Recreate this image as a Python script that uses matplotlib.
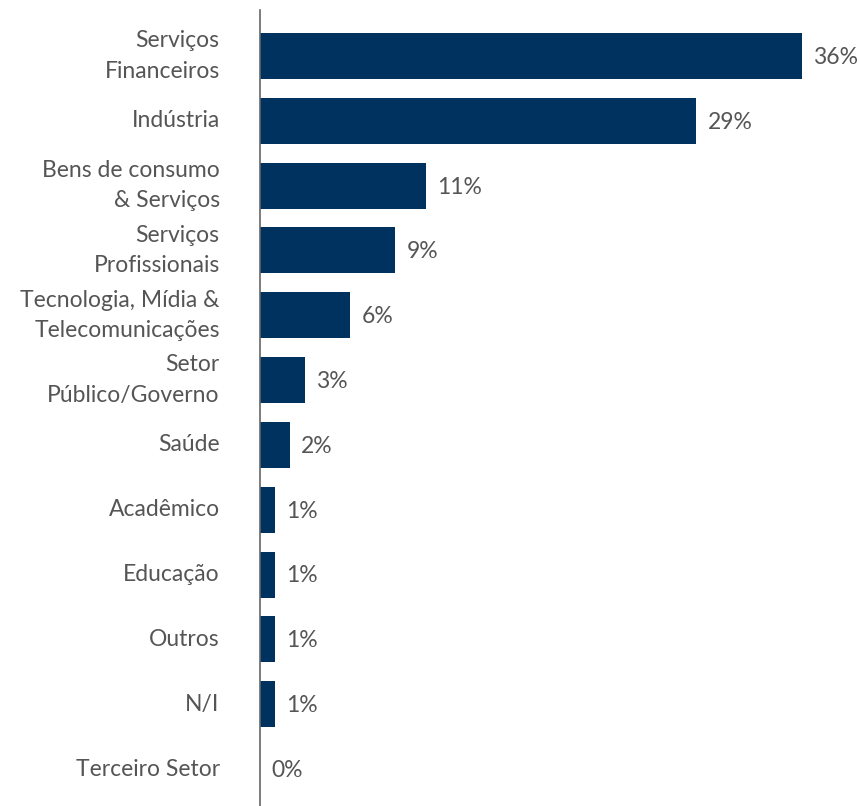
import matplotlib.pyplot as plt

setores = ['Serviços\nFinanceiros', 'Indústria', 'Bens de consumo\n& Serviços',
           'Serviços\nProfissionais', 'Tecnologia, Mídia &\nTelecomunicações',
           'Setor\nPúblico/Governo', 'Saúde', 'Acadêmico', 'Educação',
           'Outros', 'N/I', 'Terceiro Setor']
percentuais = [36, 29, 11, 9, 6, 3, 2, 1, 1, 1, 1, 0]

azul = '#003260'
cinza = '#555555'

plt.rcParams['font.family'] = ['Lato', 'DejaVu Sans']

fig = plt.figure(figsize=(8.62, 8.06), dpi=100)
ax = fig.add_axes([0.3016, 0.0, 0.6984, 0.9876])

pos = list(range(len(setores)))
ax.barh(pos, percentuais, height=0.71, color=azul)

for p, v in zip(pos, percentuais):
    ax.annotate(f'{v}%', (v, p), xytext=(8, -1), textcoords='offset points',
                va='center', ha='left', fontsize=16.5, color=cinza)

ax.set_yticks(pos)
ax.set_yticklabels(setores, fontsize=16.5, color=cinza, linespacing=1.55)
for lbl in ax.get_yticklabels():
    lbl.set_va('center')
ax.tick_params(axis='y', length=0, pad=29)
ax.set_xticks([])
ax.set_xlim(0, 40)
ax.set_ylim(11.57, -0.71)

for s in ['top', 'right', 'bottom']:
    ax.spines[s].set_visible(False)
ax.spines['left'].set_color('#666666')
ax.spines['left'].set_linewidth(1.2)

fig.savefig('out.png', dpi=100)
